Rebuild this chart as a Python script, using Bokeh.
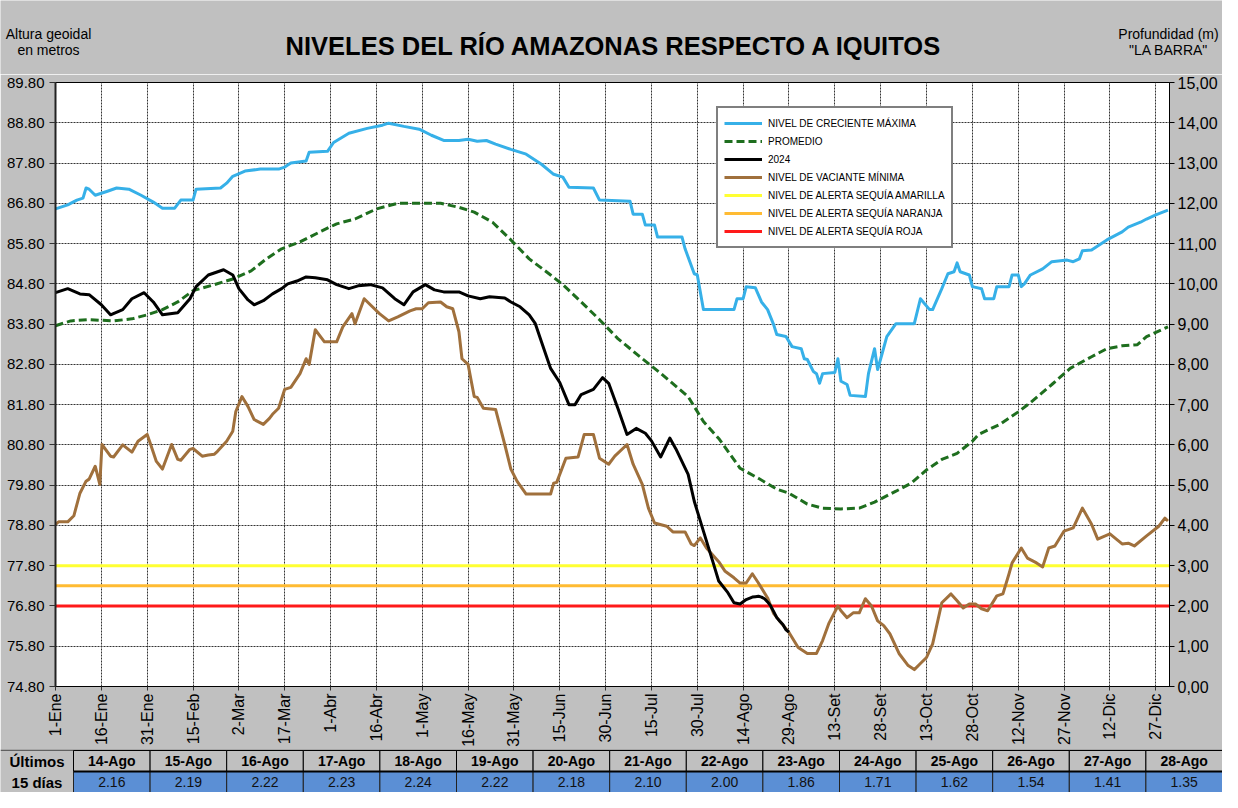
import math
from bokeh.plotting import figure
from bokeh.models import (Range1d, LinearAxis, FixedTicker, Legend, LegendItem,
                          NumeralTickFormatter)
from bokeh.embed import file_html
from bokeh.resources import INLINE
from bokeh.core.properties import value

FONT = "Liberation Sans"
BG = "#c0c0c0"

# ---------------- data ----------------
BASE = 74.80  # cero de la regla "LA BARRA" (altura geoidal)

titulo = "NIVELES DEL RÍO AMAZONAS RESPECTO A IQUITOS"
eje_izq = ["Altura geoidal", "en metros"]
eje_der = ["Profundidad (m)", "\"LA BARRA\""]

tick_dias = [1, 16, 31, 46, 61, 76, 91, 106, 121, 136, 151, 166, 181, 196, 211, 226,
             241, 256, 271, 286, 301, 316, 331, 346, 361]
tick_etiquetas = ["1-Ene", "16-Ene", "31-Ene", "15-Feb", "2-Mar", "17-Mar", "1-Abr", "16-Abr",
                  "1-May", "16-May", "31-May", "15-Jun", "30-Jun", "15-Jul", "30-Jul", "14-Ago",
                  "29-Ago", "13-Set", "28-Set", "13-Oct", "28-Oct", "12-Nov", "27-Nov",
                  "12-Dic", "27-Dic"]
nivel_ticks = [74.8, 75.8, 76.8, 77.8, 78.8, 79.8, 80.8, 81.8, 82.8, 83.8, 84.8, 85.8,
               86.8, 87.8, 88.8, 89.8]
prof_ticks = list(range(0, 16))

blue_dias = [1, 5, 8, 10, 11, 12, 14, 18, 21, 25, 29, 33, 36, 40, 42, 46, 47, 55, 57, 59,
             63, 68, 74, 76, 78, 83, 84, 90, 92, 97, 103, 108, 110, 115, 120, 124, 128, 133,
             136, 139, 142, 145, 150, 155, 160, 164, 167, 169, 177, 179, 189, 190, 193, 194,
             197, 198, 206, 207, 210, 211, 213, 223, 224, 226, 227, 230, 232, 234, 236, 237,
             240, 242, 245, 246, 247, 249, 250, 251, 252, 256, 257, 258, 260, 261, 266, 267,
             269, 270, 271, 273, 276, 282, 284, 287, 288, 291, 293, 295, 296, 297, 300, 301,
             304, 305, 308, 309, 313, 314, 316, 317, 318, 320, 324, 327, 332, 334, 336, 337,
             340, 345, 350, 352, 356, 358, 361, 365]
blue_nivel = [86.66, 86.76, 86.88, 86.93, 87.18, 87.15, 87.00, 87.10, 87.18, 87.15,
              87.00, 86.83, 86.68, 86.68, 86.88, 86.88, 87.15, 87.18, 87.30, 87.47,
              87.60, 87.65, 87.65, 87.70, 87.80, 87.85, 88.07, 88.09, 88.31, 88.54,
              88.66, 88.74, 88.79, 88.71, 88.64, 88.49, 88.36, 88.36, 88.39, 88.34,
              88.36, 88.27, 88.14, 88.02, 87.77, 87.52, 87.45, 87.20, 87.18, 86.88,
              86.85, 86.53, 86.53, 86.26, 86.26, 85.96, 85.96, 85.67, 85.05, 85.02,
              84.16, 84.16, 84.43, 84.43, 84.73, 84.70, 84.35, 84.16, 83.78, 83.54,
              83.49, 83.24, 83.19, 82.94, 82.92, 82.62, 82.57, 82.33, 82.57, 82.60,
              82.94, 82.38, 82.30, 82.03, 82.00, 82.57, 83.19, 82.67, 82.94, 83.49,
              83.81, 83.81, 84.43, 84.16, 84.16, 84.68, 85.05, 85.10, 85.32, 85.10,
              85.02, 84.73, 84.68, 84.43, 84.43, 84.73, 84.73, 85.02, 85.02, 84.73,
              84.80, 85.02, 85.17, 85.35, 85.39, 85.35, 85.42, 85.62, 85.64, 85.89,
              86.09, 86.21, 86.33, 86.41, 86.51, 86.63]

prom_dias = [1, 6, 12, 20, 26, 31, 36, 41, 46, 53, 59, 65, 70, 75, 81, 88, 93, 99, 106, 113,
             120, 127, 133, 138, 144, 150, 156, 163, 167, 173, 179, 185, 193, 199, 208, 213,
             218, 225, 231, 237, 241, 247, 252, 258, 264, 269, 276, 281, 286, 291, 296, 301,
             303, 310, 316, 320, 327, 333, 340, 345, 350, 355, 358, 365]
prom_nivel = [83.76, 83.88, 83.91, 83.88, 83.93, 84.03, 84.16, 84.35, 84.63, 84.78,
              84.92, 85.12, 85.42, 85.67, 85.84, 86.11, 86.29, 86.41, 86.66, 86.80,
              86.80, 86.80, 86.70, 86.58, 86.33, 85.89, 85.42, 85.02, 84.78, 84.35,
              83.91, 83.44, 82.94, 82.58, 82.00, 81.38, 80.96, 80.22, 79.97, 79.70,
              79.60, 79.33, 79.23, 79.21, 79.23, 79.38, 79.65, 79.85, 80.18, 80.44,
              80.59, 80.89, 81.06, 81.31, 81.62, 81.85, 82.30, 82.70, 82.99, 83.19,
              83.26, 83.29, 83.49, 83.73]

n2024_dias = [1, 5, 9, 12, 16, 19, 23, 26, 30, 33, 36, 41, 45, 47, 51, 56, 59, 61, 64, 66,
              69, 72, 75, 77, 80, 83, 86, 90, 93, 97, 100, 104, 108, 112, 115, 118, 122, 125,
              128, 133, 136, 140, 143, 148, 150, 153, 156, 158, 160, 163, 166, 169, 171, 173,
              177, 180, 182, 185, 188, 191, 194, 196, 199, 202, 204, 208, 210, 213, 216, 218,
              221, 223, 225]
n2024_nivel = [84.58, 84.68, 84.55, 84.53, 84.28, 84.03, 84.16, 84.43, 84.58, 84.35,
               84.03, 84.08, 84.43, 84.73, 85.02, 85.15, 85.02, 84.68, 84.40, 84.28,
               84.38, 84.55, 84.68, 84.80, 84.87, 84.97, 84.95, 84.90, 84.78, 84.68,
               84.75, 84.78, 84.70, 84.43, 84.28, 84.60, 84.78, 84.65, 84.60, 84.60,
               84.50, 84.43, 84.48, 84.45, 84.35, 84.23, 84.03, 83.81, 83.36, 82.70,
               82.35, 81.80, 81.80, 82.05, 82.18, 82.47, 82.33, 81.71, 81.06, 81.21,
               81.09, 80.90, 80.50, 80.97, 80.70, 80.07, 79.40, 78.66, 77.92, 77.42,
               77.13, 76.88, 76.85]

vac_dias = [1, 2, 5, 7, 9, 11, 12, 14, 15.5, 16.2, 19, 20, 23, 26, 28, 31, 32, 34, 36, 39,
            41, 42, 45, 46, 49, 51, 53, 54, 57, 59, 60, 62, 64, 66, 69, 71, 72, 74, 76, 78,
            81, 83, 84, 86, 89, 93, 95, 98, 99, 102, 104, 107, 110, 113, 117, 119, 121, 123,
            127, 129, 131, 133, 134, 136, 137, 138, 139, 141, 145, 148, 150, 152, 155, 163,
            164, 165, 168, 172, 174, 177, 179, 182, 184, 188, 190, 193, 195, 197, 201, 203,
            207, 209, 210, 212, 214, 218, 220, 223, 225, 227, 229, 231, 234, 236, 241, 244,
            247, 250, 252, 254, 257, 258, 260, 262, 264, 266, 268, 270, 272, 274, 277, 280,
            282, 284, 286, 288, 291, 294, 296, 298, 300, 302, 304, 306, 309, 311, 313, 314,
            317, 319, 322, 324, 326, 328, 331, 334, 337, 340, 342, 346, 350, 352, 354, 358,
            362, 364, 365]
vac_nivel = [78.83, 78.89, 78.89, 79.04, 79.60, 79.90, 79.95, 80.27, 79.82, 80.81,
             80.52, 80.50, 80.80, 80.62, 80.89, 81.06, 80.84, 80.39, 80.20, 80.81,
             80.44, 80.42, 80.69, 80.71, 80.52, 80.55, 80.57, 80.64, 80.89, 81.14,
             81.63, 82.00, 81.75, 81.43, 81.31, 81.46, 81.56, 81.71, 82.18, 82.23,
             82.57, 82.94, 82.80, 83.66, 83.36, 83.36, 83.73, 84.06, 83.81, 84.43,
             84.28, 84.06, 83.88, 83.98, 84.13, 84.18, 84.18, 84.33, 84.35, 84.23,
             84.18, 83.61, 82.94, 82.80, 82.40, 82.00, 81.98, 81.71, 81.68, 80.81,
             80.20, 79.90, 79.58, 79.58, 79.85, 79.87, 80.47, 80.50, 81.06, 81.06,
             80.47, 80.32, 80.52, 80.81, 80.32, 79.82, 79.23, 78.86, 78.78, 78.64,
             78.64, 78.34, 78.30, 78.49, 78.24, 77.90, 77.67, 77.50, 77.37, 77.37,
             77.60, 77.37, 77.00, 76.61, 76.14, 75.77, 75.62, 75.62, 75.94, 76.36,
             76.80, 76.68, 76.51, 76.63, 76.63, 76.98, 76.80, 76.43, 76.31, 76.11,
             75.62, 75.32, 75.22, 75.37, 75.52, 75.86, 76.88, 77.10, 76.93, 76.75,
             76.85, 76.85, 76.73, 76.68, 77.05, 77.10, 77.60, 77.87, 78.24, 77.99,
             77.87, 77.77, 78.24, 78.29, 78.66, 78.74, 79.23, 78.83, 78.46, 78.59,
             78.34, 78.36, 78.29, 78.54, 78.78, 78.98, 78.91]

alerta_amarilla = 77.80
alerta_naranja = 77.30
alerta_roja = 76.80

ultimos_fechas = ["14-Ago", "15-Ago", "16-Ago", "17-Ago", "18-Ago", "19-Ago", "20-Ago",
                  "21-Ago", "22-Ago", "23-Ago", "24-Ago", "25-Ago", "26-Ago", "27-Ago",
                  "28-Ago"]
ultimos_dias = [227, 228, 229, 230, 231, 232, 233, 234, 235, 236, 237, 238, 239, 240, 241]
ultimos_prof = [2.16, 2.19, 2.22, 2.23, 2.24, 2.22, 2.18, 2.10, 2.00, 1.86, 1.71, 1.62,
                1.54, 1.41, 1.35]

W = 1222


def bare(height, yh):
    f = figure(width=W, height=height, x_range=Range1d(0, W), y_range=Range1d(0, yh),
               output_backend="svg", toolbar_location=None, min_border=0,
               x_axis_location=None, y_axis_location=None)
    f.grid.visible = False
    f.outline_line_color = None
    f.border_fill_color = BG
    f.background_fill_color = BG
    return f


# ---------------- header ----------------
HH = 74
hdr = bare(HH, HH)
hdr.text(x=[614], y=[HH - 45], text=[titulo], text_font=value(FONT), text_font_size="25.5px",
         text_font_style="bold", text_align="center", text_baseline="middle",
         text_color="black")
hdr.text(x=[48, 48], y=[HH - 33, HH - 49], text=eje_izq, text_font=value(FONT),
         text_font_size="14px", text_align="center", text_baseline="middle",
         text_color="black")
hdr.text(x=[1168, 1168], y=[HH - 33, HH - 49], text=eje_der, text_font=value(FONT),
         text_font_size="14px", text_align="center", text_baseline="middle",
         text_color="black")

# ---------------- main figure ----------------
X0, X1 = 1, 365.5
Y0, Y1 = 74.8, 89.8
H = 675
ML, MR, MT, MB = 55, 53, 8, 61

p = figure(width=W, height=H, x_range=Range1d(X0, X1), y_range=Range1d(Y0, Y1),
           output_backend="svg", toolbar_location=None,
           min_border_left=ML, min_border_right=MR, min_border_top=MT, min_border_bottom=MB)
p.border_fill_color = BG
p.background_fill_color = "white"
p.outline_line_color = "black"
p.outline_line_width = 1

p.xaxis.ticker = FixedTicker(ticks=tick_dias)
p.xaxis.major_label_overrides = dict(zip(tick_dias, tick_etiquetas))
p.xaxis.major_label_orientation = math.pi / 2
p.xaxis.major_label_text_font = FONT
p.xaxis.major_label_text_font_size = "16px"
p.xaxis.major_label_text_color = "black"
p.xaxis.major_tick_out = 4
p.xaxis.major_tick_in = 0
p.xaxis.major_label_standoff = 3
p.xaxis.minor_tick_line_color = None
p.xaxis.axis_line_color = "black"
p.xaxis.major_tick_line_color = "#333333"

p.yaxis.ticker = FixedTicker(ticks=nivel_ticks)
p.yaxis.formatter = NumeralTickFormatter(format="0.00")
p.yaxis.major_label_text_font = FONT
p.yaxis.major_label_text_font_size = "15px"
p.yaxis.major_label_text_color = "black"
p.yaxis.major_tick_out = 6
p.yaxis.major_tick_in = 0
p.yaxis.major_label_standoff = 5
p.yaxis.minor_tick_line_color = None
p.yaxis.axis_line_color = "#222222"
p.yaxis.axis_line_width = 2
p.yaxis.major_tick_line_color = "#333333"

p.extra_y_ranges = {"prof": Range1d(Y0 - BASE, Y1 - BASE)}
ax_r = LinearAxis(y_range_name="prof", ticker=FixedTicker(ticks=prof_ticks))
ax_r.major_label_overrides = {t: f"{t:.2f}".replace(".", ",") for t in prof_ticks}
ax_r.major_label_text_font = FONT
ax_r.major_label_text_font_size = "16px"
ax_r.major_label_text_color = "black"
ax_r.major_tick_out = 5
ax_r.major_tick_in = 0
ax_r.major_label_standoff = 3
ax_r.minor_tick_line_color = None
ax_r.axis_line_color = "black"
p.add_layout(ax_r, "right")

for g in (p.xgrid, p.ygrid):
    g.grid_line_color = "#333333"
    g.grid_line_dash = "2 1"
    g.grid_line_width = 1

xs = [X0, X1]
r_am = p.line(xs, [alerta_amarilla] * 2, line_color="#ffff33", line_width=3)
r_na = p.line(xs, [alerta_naranja] * 2, line_color="#ffbb33", line_width=3)
r_ro = p.line(xs, [alerta_roja] * 2, line_color="#ff1a1a", line_width=3)

r_bl = p.line(blue_dias, blue_nivel, line_color="#36b0e8", line_width=3, line_join="round")
r_vac = p.line(vac_dias, vac_nivel, line_color="#a0703c", line_width=3, line_join="round")
r_pr = p.line(prom_dias, prom_nivel, line_color="#1e6e1e", line_width=3, line_dash="8 4")
negro_x = n2024_dias + ultimos_dias
negro_y = n2024_nivel + [round(BASE + d, 2) for d in ultimos_prof]
r_24 = p.line(negro_x, negro_y, line_color="black", line_width=3, line_join="round")

legend = Legend(items=[
    LegendItem(label="NIVEL DE CRECIENTE MÁXIMA", renderers=[r_bl]),
    LegendItem(label="PROMEDIO", renderers=[r_pr]),
    LegendItem(label="2024", renderers=[r_24]),
    LegendItem(label="NIVEL DE VACIANTE MÍNIMA", renderers=[r_vac]),
    LegendItem(label="NIVEL DE ALERTA SEQUÍA AMARILLA", renderers=[r_am]),
    LegendItem(label="NIVEL DE ALERTA SEQUÍA NARANJA", renderers=[r_na]),
    LegendItem(label="NIVEL DE ALERTA SEQUÍA ROJA", renderers=[r_ro]),
], location=(661, 438))
legend.label_text_font = FONT
legend.label_text_font_size = "10px"
legend.label_text_color = "black"
legend.glyph_width = 38
legend.glyph_height = 18
legend.label_height = 18
legend.label_standoff = 6
legend.padding = 6
legend.spacing = 0
legend.margin = 0
legend.border_line_color = "black"
legend.border_line_width = 2
legend.background_fill_color = "white"
legend.background_fill_alpha = 1
p.add_layout(legend)

# ---------------- table ----------------
TH = 43
t = bare(TH, TH)
C0 = 73
n = len(ultimos_fechas)
cw = (W - C0) / n
lefts = [C0 + i * cw for i in range(n)]
rights = [l + cw for l in lefts]
centers = [l + cw / 2 for l in lefts]

t.quad(left=lefts, right=rights, bottom=[21] * n, top=[42] * n,
       fill_color=BG, line_color="black", line_width=1)
t.quad(left=lefts, right=rights, bottom=[0] * n, top=[21] * n,
       fill_color="#5b8fd5", line_color="#222222", line_width=1)
t.segment(x0=[0], y0=[42.5], x1=[W], y1=[42.5], line_color="black", line_width=1)
t.segment(x0=[C0], y0=[21], x1=[W], y1=[21], line_color="black", line_width=2)

t.text(x=centers, y=[31.5] * n, text=ultimos_fechas, text_font=value(FONT),
       text_font_size="14px", text_font_style="bold", text_align="center",
       text_baseline="middle", text_color="black")
t.text(x=centers, y=[10.5] * n, text=[f"{v:.2f}" for v in ultimos_prof],
       text_font=value(FONT), text_font_size="14px", text_align="center",
       text_baseline="middle", text_color="#111111")
t.text(x=[C0 / 2, C0 / 2], y=[31.5, 10.5], text=["Últimos", "15 días"], text_font=value(FONT),
       text_font_size="15px", text_font_style="bold", text_align="center",
       text_baseline="middle", text_color="black")

open("out.html", "w").write(file_html([hdr, p, t], INLINE))
